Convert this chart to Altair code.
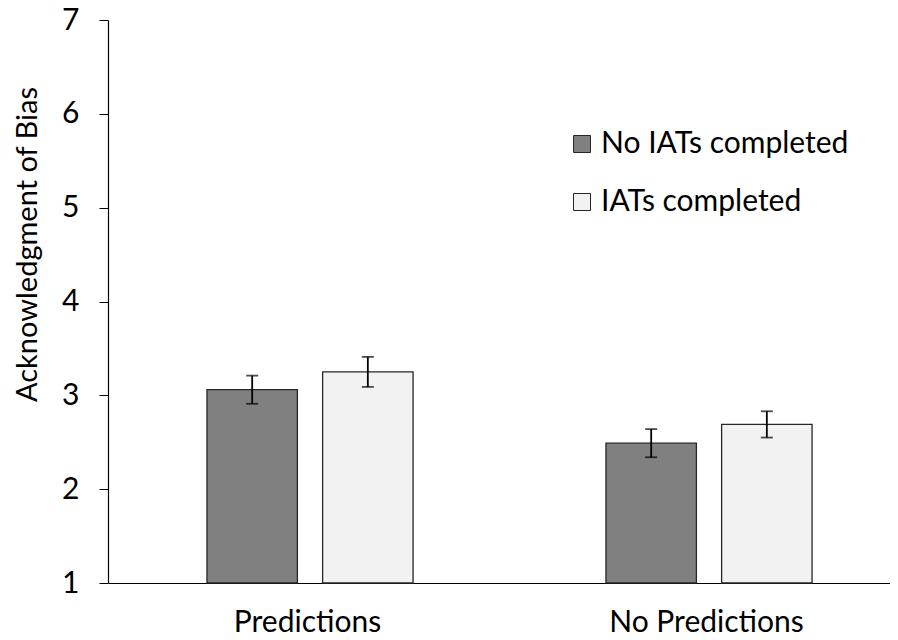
import altair as alt
import pandas as pd

# ---- data ----
conditions = ["Predictions", "Predictions", "No Predictions", "No Predictions"]
iat_groups = ["No IATs completed", "IATs completed", "No IATs completed", "IATs completed"]
means = [3.06, 3.25, 2.49, 2.69]
errors = [0.15, 0.16, 0.15, 0.14]
cond_order = ["Predictions", "No Predictions"]
group_order = ["No IATs completed", "IATs completed"]
y_ticks = [1, 2, 3, 4, 5, 6, 7]
bar_colors = ["#808080", "#f2f2f2"]

df = pd.DataFrame({"condition": conditions, "group": iat_groups, "mean": means, "err": errors})
df["lo"] = df["mean"] - df["err"]
df["hi"] = df["mean"] + df["err"]

FONT = "Lato"
FS = 30

x_enc = alt.X(
    "condition:N",
    sort=cond_order,
    scale=alt.Scale(range=[0, 798], paddingInner=0, paddingOuter=0),
    axis=alt.Axis(
        title=None, labelAngle=0, ticks=False, labelFontSize=FS, labelFont=FONT,
        labelColor="black", labelBaseline="alphabetic", labelPadding=48, labelLimit=400,
        domainColor="black", domainWidth=1.2,
    ),
)
xo_enc = alt.XOffset(
    "group:N",
    sort=group_order,
    scale=alt.Scale(paddingInner=0.218, paddingOuter=0.834, align=0.513),
)
y_scale = alt.Scale(domain=[1, 7], zero=False, nice=False)

bars = alt.Chart(df).mark_bar(stroke="#262626", strokeWidth=1.3).encode(
    x=x_enc,
    xOffset=xo_enc,
    y=alt.Y(
        "mean:Q",
        scale=y_scale,
        axis=alt.Axis(
            values=y_ticks, format="d", grid=False, title="Acknowledgment of Bias",
            labelFontSize=FS, labelFont=FONT, labelColor="black", labelPadding=20,
            tickSize=9, tickColor="black", domainColor="black", domainWidth=1.2,
            titleFont=FONT, titleFontSize=29, titleFontWeight="normal", titleColor="black",
            titleAngle=270, titleAlign="center", titleBaseline="middle",
            titleX=-81, titleY=224,
        ),
    ),
    y2=alt.datum(1),
    color=alt.Color(
        "group:N",
        sort=group_order,
        scale=alt.Scale(domain=group_order, range=bar_colors),
        legend=alt.Legend(
            title=None, orient="none", legendX=459, legendY=109,
            symbolType="square", symbolSize=289, symbolStrokeColor="#262626",
            symbolStrokeWidth=1, labelFont=FONT, labelFontSize=FS, labelColor="black",
            labelOffset=4, rowPadding=28, labelLimit=400,
        ),
    ),
)

rules = alt.Chart(df).mark_rule(color="black", strokeWidth=1.8).encode(
    x=x_enc, xOffset=xo_enc, y=alt.Y("lo:Q", scale=y_scale), y2="hi:Q"
)
caps_hi = alt.Chart(df).mark_tick(color="black", size=12, thickness=1.8).encode(
    x=x_enc, xOffset=xo_enc, y=alt.Y("hi:Q", scale=y_scale)
)
caps_lo = alt.Chart(df).mark_tick(color="black", size=12, thickness=1.8).encode(
    x=x_enc, xOffset=xo_enc, y=alt.Y("lo:Q", scale=y_scale)
)

chart = (
    alt.layer(bars, rules, caps_hi, caps_lo)
    .properties(
        width=782, height=563,
        autosize=alt.AutoSizeParams(type="none"),
        padding={"left": 100, "top": 12, "right": 0, "bottom": 57},
    )
    .configure_view(stroke=None)
)

chart.save("out.html", embed_options={"renderer": "svg", "actions": False})
